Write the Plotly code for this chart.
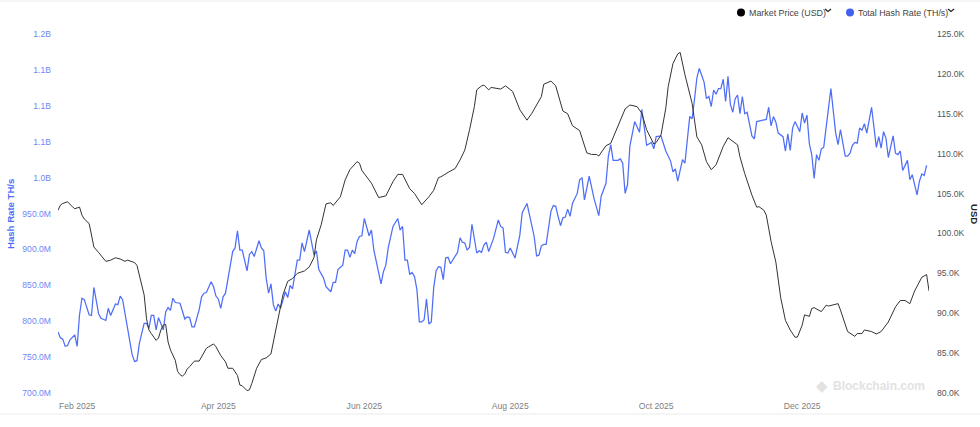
import pandas as pd
import plotly.graph_objects as go

# --- Data (days counted from the first date) ---
START_DATE = "2025-01-24"

hash_days = [0, 1, 2, 3, 4, 5, 7, 8, 9, 10, 11, 13, 14, 15, 17, 18, 20, 21, 22, 24, 25, 26, 27, 29, 31, 32, 33, 34, 36, 37,
             38, 39, 40, 41, 42, 44, 45, 46, 47, 48, 49, 51, 53, 54, 55, 56, 57, 59, 60, 61, 62, 64, 65, 66, 67, 68, 69, 70, 72, 73,
             74, 75, 76, 77, 79, 80, 81, 82, 84, 85, 86, 87, 88, 89, 90, 91, 92, 93, 95, 96, 97, 98, 100, 101, 102, 103, 105, 107, 108, 109,
             111, 112, 114, 115, 116, 117, 119, 120, 121, 122, 123, 124, 125, 126, 127, 128, 130, 131, 132, 135, 136, 137, 138, 140, 142, 143, 144, 145, 146, 147,
             148, 149, 150, 151, 152, 153, 154, 155, 156, 157, 158, 159, 160, 161, 162, 163, 164, 165, 167, 168, 169, 170, 171, 172, 173, 175, 176, 177, 178, 179,
             180, 182, 184, 185, 186, 187, 188, 189, 191, 193, 194, 196, 197, 199, 200, 201, 202, 203, 204, 206, 207, 208, 209, 210, 211, 212, 213, 214, 215, 217,
             218, 219, 220, 222, 224, 226, 227, 229, 230, 231, 232, 234, 235, 236, 237, 238, 239, 241, 243, 244, 246, 248, 249, 250, 252, 254, 256, 257, 258, 259,
             261, 262, 264, 265, 266, 267, 268, 270, 271, 272, 273, 274, 275, 276, 277, 278, 279, 280, 281, 282, 283, 284, 285, 286, 287, 288, 290, 291, 292, 296,
             297, 298, 299, 300, 301, 303, 304, 305, 306, 307, 308, 310, 311, 312, 313, 314, 315, 316, 317, 318, 319, 320, 323, 325, 326, 327, 328, 329, 330, 331,
             332, 333, 334, 335, 336, 337, 338, 340, 342, 343, 344, 345, 346, 347, 349, 350, 351, 352, 353, 355, 356, 357, 359, 360, 361, 362, 363]
hash_millions = [785, 777, 775, 765, 766, 774, 781, 765, 809, 832, 830, 809, 808, 847, 810, 804, 801, 818, 808, 824, 823, 835, 830, 792, 753, 744, 745, 769, 797, 797,
                 790, 808, 808, 788, 805, 788, 813, 819, 815, 832, 826, 825, 803, 806, 805, 792, 792, 816, 834, 839, 840, 855, 848, 835, 831, 818, 834, 839, 878, 897,
                 902, 926, 899, 899, 870, 893, 897, 890, 912, 902, 898, 860, 839, 852, 823, 814, 824, 818, 841, 833, 850, 845, 885, 885, 909, 897, 927, 892, 898, 872,
                 860, 848, 841, 854, 854, 872, 878, 899, 899, 889, 899, 894, 911, 918, 919, 943, 919, 927, 899, 852, 869, 878, 902, 932, 943, 927, 932, 885, 885, 865,
                 868, 862, 844, 799, 799, 802, 831, 796, 799, 846, 870, 876, 875, 858, 888, 889, 880, 885, 896, 916, 910, 909, 899, 903, 935, 895, 898, 896, 906, 910,
                 897, 915, 941, 932, 930, 896, 895, 902, 888, 920, 951, 964, 947, 918, 891, 892, 905, 907, 907, 953, 961, 960, 946, 933, 944, 945, 956, 946, 964, 978,
                 997, 1000, 969, 1002, 971, 947, 974, 992, 1030, 1046, 1024, 1024, 1026, 1020, 978, 990, 1044, 1078, 1063, 1095, 1045, 1049, 1040, 1057, 1058, 1037, 1023, 1008, 1012, 995,
                 1025, 1020, 1085, 1082, 1109, 1139, 1152, 1133, 1110, 1113, 1099, 1122, 1116, 1124, 1124, 1137, 1106, 1141, 1102, 1091, 1110, 1115, 1089, 1113, 1089, 1091, 1058, 1054, 1078, 1081,
                 1098, 1072, 1085, 1077, 1062, 1057, 1037, 1061, 1038, 1069, 1078, 1064, 1090, 1076, 1087, 1047, 1032, 999, 1032, 1024, 1040, 1042, 1124, 1062, 1046, 1067, 1048, 1030, 1030, 1034,
                 1045, 1049, 1048, 1069, 1066, 1075, 1062, 1098, 1042, 1057, 1041, 1064, 1055, 1028, 1058, 1034, 1032, 1037, 1010, 1024, 997, 1004, 976, 995, 1005, 1003, 1017]

price_days = [0, 1, 2, 4, 6, 7, 9, 10, 11, 13, 14, 15, 17, 18, 20, 22, 24, 26, 28, 29, 32, 33, 34, 36, 37, 38, 39, 41, 42, 43,
              44, 45, 46, 47, 49, 50, 51, 52, 53, 54, 55, 57, 59, 60, 62, 63, 65, 66, 68, 70, 71, 73, 75, 76, 77, 79, 80, 81, 83, 85,
              87, 89, 90, 92, 94, 96, 98, 100, 102, 103, 105, 107, 108, 110, 112, 114, 115, 118, 120, 122, 125, 126, 127, 131, 134, 137, 140, 142, 144, 147,
              149, 152, 155, 157, 159, 160, 163, 166, 168, 170, 172, 174, 175, 177, 178, 180, 181, 185, 187, 190, 193, 196, 198, 202, 203, 206, 208, 211, 213, 215,
              218, 221, 223, 225, 226, 229, 231, 234, 237, 239, 242, 244, 246, 249, 250, 252, 254, 255, 257, 259, 260, 262, 265, 267, 269, 271, 273, 275, 278, 280,
              284, 285, 287, 290, 292, 293, 295, 296, 297, 298, 300, 301, 302, 304, 306, 308, 309, 311, 312, 314, 315, 316, 319, 321, 322, 326, 327, 330, 333, 334,
              336, 337, 340, 342, 344, 347, 350, 352, 354, 356, 358, 361, 363, 364]
price_thousands = [102.9, 103.55, 103.76, 103.97, 103.35, 103.1, 103.3, 102.3, 101.8, 101.25, 99.8, 98.3, 97.6, 97.2, 96.5, 96.65, 96.95, 96.8, 96.5, 96.65, 96.35, 96, 94.8, 92.3, 89.3, 87.9, 87.45, 86.6, 86.9, 87.9,
                   88.5, 88.6, 86.4, 85.4, 84.1, 82.7, 82.3, 82.1, 82.4, 83, 83.3, 84, 84, 84.5, 85.6, 85.8, 86.15, 85.8, 84.7, 83.9, 83.1, 83.1, 82.2, 81, 80.9, 80.3, 80.4, 81.2, 83.1, 84.2,
                   84.4, 84.9, 86.4, 89.3, 92.3, 94, 94.35, 95, 95.2, 95.3, 95.8, 97, 99.2, 101.1, 103.7, 103.85, 103.5, 104.6, 106.7, 108, 109, 108.8, 107.9, 106.3, 104.5, 104.7, 106.5, 107.4, 107.4, 105.6,
                   105, 103.6, 104.6, 105.4, 107, 107.1, 107.65, 108.15, 109.2, 110.45, 113, 115.9, 118, 118.5, 118.6, 118, 118.3, 118.1, 118.5, 117.8, 115.5, 114.2, 115.05, 117.15, 118.7, 119.1, 118.5, 115.35, 115, 113.5,
                   112.9, 110.1, 109.9, 109.9, 109.7, 111, 111.3, 113.4, 115.6, 116.1, 115.9, 115.05, 113, 111.2, 111.4, 112.35, 115.7, 118.4, 121.3, 122.5, 122.7, 119.9, 116.3, 112.1, 111.1, 109, 108, 108.6, 110.9, 112,
                   111.1, 109.6, 107.5, 104.8, 103.3, 103.35, 102.9, 102.3, 100.4, 99, 96.4, 94.35, 92, 89.1, 87.9, 87, 87, 88.5, 89.8, 89.6, 90.6, 90.7, 90.2, 91, 90.9, 91.2, 90.4, 87.7, 87.1, 87.45,
                   87.45, 87.9, 87.7, 87.4, 87.7, 88.9, 90.8, 91.6, 91.6, 91.2, 92.8, 94.5, 94.85, 92.8]

month_ticks = ["2025-02-01", "2025-04-01", "2025-06-01", "2025-08-01", "2025-10-01", "2025-12-01"]
month_labels = ["Feb 2025", "Apr 2025", "Jun 2025", "Aug 2025", "Oct 2025", "Dec 2025"]

hash_ticks = [700, 750, 800, 850, 900, 950, 1000, 1050, 1100, 1150, 1200]
hash_tick_labels = ["700.0M", "750.0M", "800.0M", "850.0M", "900.0M", "950.0M", "1.0B", "1.1B", "1.1B", "1.1B", "1.2B"]

price_ticks = [80, 85, 90, 95, 100, 105, 110, 115, 120, 125]
price_tick_labels = ["80.0K", "85.0K", "90.0K", "95.0K", "100.0K", "105.0K", "110.0K", "115.0K", "120.0K", "125.0K"]

# --- Styling ---
WIDTH, HEIGHT = 980, 427
LEFT, RIGHT, TOP, BOTTOM = 58, 51, 34, 34
FONT = "Liberation Sans"
TICK_SIZE = 8.6
BLUE = "#4f6ef7"
BLUE_TEXT = "#6f87f7"
BLACK = "#333333"


def px_x(x):
    # page pixel -> paper x
    return (x - LEFT) / (WIDTH - LEFT - RIGHT)


def px_y(y):
    # page pixel -> paper y
    return 1 - (y - TOP) / (HEIGHT - TOP - BOTTOM)


def to_dates(days):
    return pd.Timestamp(START_DATE) + pd.to_timedelta(days, unit="D")


fig = go.Figure()
fig.add_trace(go.Scatter(
    x=to_dates(hash_days), y=[v * 1e6 for v in hash_millions],
    name="Total Hash Rate (TH/s)", yaxis="y", mode="lines",
    line=dict(color=BLUE, width=1.25),
))
fig.add_trace(go.Scatter(
    x=to_dates(price_days), y=[v * 1e3 for v in price_thousands],
    name="Market Price (USD)", yaxis="y2", mode="lines",
    line=dict(color=BLACK, width=1),
))

shapes = [
    # grey page bands
    dict(type="rect", xref="paper", yref="paper", x0=px_x(0), x1=px_x(WIDTH), y0=px_y(0), y1=px_y(2),
         fillcolor="#f5f5f5", line_width=0),
    dict(type="rect", xref="paper", yref="paper", x0=px_x(0), x1=px_x(WIDTH), y0=px_y(413), y1=px_y(415),
         fillcolor="#f5f5f5", line_width=0),
]
# legend dots and chevrons
for cx, color, chevron_x in [(741, "#000000", 828), (850, "#4361ee", 951)]:
    shapes.append(dict(type="circle", xref="paper", yref="paper", x0=px_x(cx - 4), x1=px_x(cx + 4),
                       y0=px_y(8.5), y1=px_y(16.5), fillcolor=color, line_width=0))
    shapes.append(dict(type="path", xref="paper", yref="paper",
                       path=f"M {px_x(chevron_x - 3)} {px_y(9)} L {px_x(chevron_x)} {px_y(11.5)} L {px_x(chevron_x + 3)} {px_y(9)}",
                       line=dict(color="#222222", width=1.2)))


def note(text, x, y, color, size=10, anchor="left", angle=0, bold=False):
    return dict(text=f"<b>{text}</b>" if bold else text, xref="paper", yref="paper",
                x=px_x(x), y=px_y(y), xanchor=anchor, yanchor="middle", showarrow=False,
                textangle=angle, font=dict(family=FONT, size=size, color=color))


annotations = [
    note("Market Price (USD)", 747, 12.5, "#444444", 8.9),
    note("Total Hash Rate (TH/s)", 856, 12.5, "#444444", 8.9),
    note("Hash Rate TH/s", 10, 214, BLUE, 9.6, anchor="center", angle=-90, bold=True),
    note("USD", 975, 214, "#222222", 9.6, anchor="center", angle=90, bold=True),
    note("◆", 822, 385.5, "#e2e2e2", 15, anchor="center"),
    note("Blockchain.com", 831, 385.5, "#e2e2e2", 12, bold=True),
]

fig.update_layout(
    width=WIDTH, height=HEIGHT,
    margin=dict(l=LEFT, r=RIGHT, t=TOP, b=BOTTOM, autoexpand=False),
    paper_bgcolor="white", plot_bgcolor="white",
    showlegend=False,
    shapes=shapes, annotations=annotations,
    xaxis=dict(
        range=[to_dates(0), to_dates(364)], showgrid=False, zeroline=False, showline=False,
        tickvals=month_ticks, ticktext=month_labels, ticks="", ticklabelstandoff=6,
        tickfont=dict(family=FONT, size=TICK_SIZE, color="#808080"),
    ),
    yaxis=dict(
        range=[700e6, 1200e6], showgrid=False, zeroline=False, showline=False,
        tickvals=[v * 1e6 for v in hash_ticks], ticktext=hash_tick_labels, ticks="", ticklabelstandoff=6,
        tickfont=dict(family=FONT, size=TICK_SIZE, color=BLUE_TEXT),
    ),
    yaxis2=dict(
        range=[80e3, 125e3], overlaying="y", side="right", showgrid=False, zeroline=False, showline=False,
        tickvals=[v * 1e3 for v in price_ticks], ticktext=price_tick_labels, ticks="", ticklabelstandoff=7,
        tickfont=dict(family=FONT, size=TICK_SIZE, color="#555555"),
    ),
)

# the browser's default body margin would push the fixed-size figure off the page
fig.write_html("out.html", config={"displayModeBar": False}, post_script="document.body.style.margin='0';")
